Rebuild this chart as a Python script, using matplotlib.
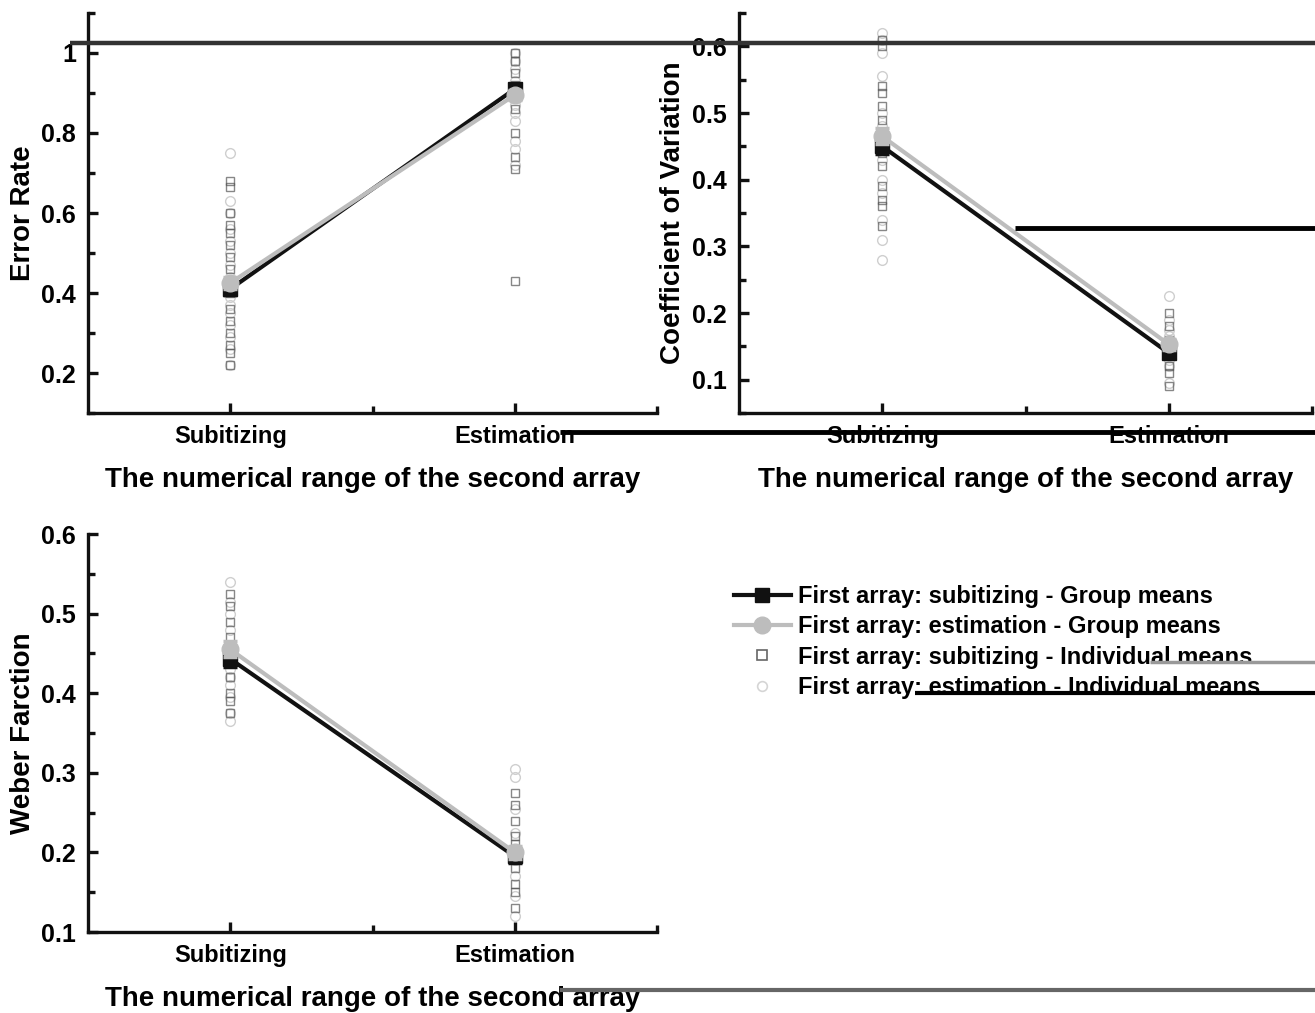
import matplotlib
matplotlib.use("Agg")
import matplotlib.pyplot as plt
from matplotlib.lines import Line2D
from matplotlib.ticker import FixedLocator
import numpy as np

plt.rcParams['font.family'] = ['Liberation Sans', 'DejaVu Sans']
plt.rcParams['font.weight'] = 'bold'

categories = ["Subitizing", "Estimation"]
x_label = "The numerical range of the second array"

# Panel 1: Error rate
er_sub_mean = [0.41, 0.91]
er_sub_err = [0.015, 0.012]
er_est_mean = [0.425, 0.895]
er_est_err = [0.015, 0.012]
er_sub_ind_1 = [0.22, 0.25, 0.27, 0.30, 0.33, 0.36, 0.40, 0.43, 0.46, 0.49, 0.52, 0.55, 0.57, 0.60, 0.665, 0.68]
er_est_ind_1 = [0.22, 0.26, 0.29, 0.32, 0.35, 0.37, 0.39, 0.41, 0.44, 0.47, 0.50, 0.53, 0.56, 0.60, 0.63, 0.75]
er_sub_ind_2 = [0.43, 0.71, 0.74, 0.80, 0.86, 0.89, 0.92, 0.95, 0.98, 1.0]
er_est_ind_2 = [0.72, 0.76, 0.78, 0.83, 0.85, 0.87, 0.90, 0.93, 0.96, 0.98, 1.0]

# Panel 2: Coefficient of variation
cv_sub_mean = [0.45, 0.14]
cv_sub_err = [0.012, 0.008]
cv_est_mean = [0.465, 0.153]
cv_est_err = [0.012, 0.008]
cv_sub_ind_1 = [0.33, 0.36, 0.37, 0.39, 0.42, 0.44, 0.47, 0.49, 0.51, 0.53, 0.54, 0.60, 0.61]
cv_est_ind_1 = [0.28, 0.31, 0.34, 0.38, 0.40, 0.43, 0.46, 0.48, 0.50, 0.555, 0.59, 0.61, 0.62]
cv_sub_ind_2 = [0.09, 0.11, 0.12, 0.14, 0.16, 0.18, 0.20]
cv_est_ind_2 = [0.095, 0.12, 0.13, 0.15, 0.165, 0.175, 0.19, 0.225]

# Panel 3: Weber fraction
wf_sub_mean = [0.443, 0.195]
wf_sub_err = [0.01, 0.008]
wf_est_mean = [0.455, 0.2]
wf_est_err = [0.01, 0.008]
wf_sub_ind_1 = [0.375, 0.39, 0.40, 0.42, 0.44, 0.46, 0.47, 0.49, 0.51, 0.525]
wf_est_ind_1 = [0.365, 0.375, 0.395, 0.41, 0.42, 0.43, 0.45, 0.48, 0.50, 0.515, 0.54]
wf_sub_ind_2 = [0.13, 0.15, 0.16, 0.18, 0.21, 0.22, 0.24, 0.26, 0.275]
wf_est_ind_2 = [0.12, 0.145, 0.17, 0.19, 0.225, 0.255, 0.295, 0.305]

legend_labels = ["First array: subitizing - Group means",
                 "First array: estimation - Group means",
                 "First array: subitizing - Individual means",
                 "First array: estimation - Individual means"]

W, H = 1315, 1013
fig = plt.figure(figsize=(W / 100, H / 100), dpi=100)

def fx(px):
    return px / W

def fy(py):
    return 1 - py / H

BLACK = "#111111"
GRAY = "#bdbdbd"
SQ_IND = "#555555"
CI_IND = "#cfcfcf"

def panel(rect, ylabel, ylim, ymajor, yminor, sub_mean, sub_err, est_mean, est_err,
          sq1, ci1, sq2, ci2):
    ax = fig.add_axes(rect)
    xs = np.arange(1, len(categories) + 1)
    # individual means
    ax.plot([xs[0]] * len(ci1), ci1, ls='none', marker='o', ms=7, mfc='none', mec=CI_IND, mew=1.0, zorder=2)
    ax.plot([xs[1]] * len(ci2), ci2, ls='none', marker='o', ms=7, mfc='none', mec=CI_IND, mew=1.0, zorder=2)
    ax.plot([xs[0]] * len(sq1), sq1, ls='none', marker='s', ms=6, mfc='none', mec=SQ_IND, mew=1.0, zorder=2, alpha=0.7)
    ax.plot([xs[1]] * len(sq2), sq2, ls='none', marker='s', ms=6, mfc='none', mec=SQ_IND, mew=1.0, zorder=2, alpha=0.7)
    # group means
    ax.errorbar(xs, sub_mean, yerr=sub_err, color=BLACK, lw=3, marker='s', ms=10,
                capsize=5, elinewidth=2.5, capthick=2.5, zorder=4)
    ax.errorbar(xs, est_mean, yerr=est_err, color=GRAY, lw=3, marker='o', ms=12,
                capsize=5, elinewidth=2.5, capthick=2.5, zorder=5)
    ax.set_xlim(0.5, 2.5)
    ax.set_ylim(*ylim)
    ax.set_xticks(xs)
    ax.set_xticklabels(categories)
    ax.xaxis.set_minor_locator(FixedLocator([1.5, 2.5]))
    ax.yaxis.set_major_locator(FixedLocator(ymajor))
    ax.yaxis.set_minor_locator(FixedLocator(yminor))
    ax.set_yticklabels([("%g" % v) for v in ymajor])
    for s in ['top', 'right']:
        ax.spines[s].set_visible(False)
    for s in ['left', 'bottom']:
        ax.spines[s].set_linewidth(2.4)
        ax.spines[s].set_color(BLACK)
    ax.tick_params(which='major', direction='in', length=7, width=2.4, labelsize=17, pad=8.5, color=BLACK)
    ax.tick_params(axis='y', which='major', labelsize=18, pad=8.5)
    ax.tick_params(which='minor', direction='in', length=5, width=2.4, color=BLACK)
    for lab in ax.get_xticklabels() + ax.get_yticklabels():
        lab.set_fontweight('bold')
    ax.set_ylabel(ylabel, fontsize=20, fontweight='bold')
    ax.set_xlabel(x_label, fontsize=20, fontweight='bold', labelpad=14)
    ax.yaxis.set_label_coords(-0.092, 0.5)
    return ax

ax1 = panel([fx(88), fy(413), fx(657) - fx(88), fy(13) - fy(413)], "Error Rate", (0.1, 1.1),
            [0.2, 0.4, 0.6, 0.8, 1.0], [0.1, 0.3, 0.5, 0.7, 0.9, 1.1],
            er_sub_mean, er_sub_err, er_est_mean, er_est_err,
            er_sub_ind_1, er_est_ind_1, er_sub_ind_2, er_est_ind_2)
ax1.set_yticklabels(["0.2", "0.4", "0.6", "0.8", "1"])

ax2 = panel([fx(739), fy(413), fx(1312) - fx(739), fy(13) - fy(413)], "Coefficient of Variation", (0.05, 0.65),
            [0.1, 0.2, 0.3, 0.4, 0.5, 0.6], [0.05, 0.15, 0.25, 0.35, 0.45, 0.55, 0.65],
            cv_sub_mean, cv_sub_err, cv_est_mean, cv_est_err,
            cv_sub_ind_1, cv_est_ind_1, cv_sub_ind_2, cv_est_ind_2)

ax3 = panel([fx(88), fy(932), fx(657) - fx(88), fy(534) - fy(932)], "Weber Farction", (0.1, 0.6),
            [0.1, 0.2, 0.3, 0.4, 0.5, 0.6], [0.15, 0.25, 0.35, 0.45, 0.55],
            wf_sub_mean, wf_sub_err, wf_est_mean, wf_est_err,
            wf_sub_ind_1, wf_est_ind_1, wf_sub_ind_2, wf_est_ind_2)

handles = [
    Line2D([], [], color=BLACK, lw=3, marker='s', ms=10),
    Line2D([], [], color=GRAY, lw=3, marker='o', ms=12),
    Line2D([], [], ls='none', marker='s', ms=7, mfc='none', mec='#666666', mew=1.2),
    Line2D([], [], ls='none', marker='o', ms=7, mfc='none', mec='#d5d5d5', mew=1.2),
]
fig.legend(handles, legend_labels, loc='upper left', bbox_to_anchor=(fx(734), fy(585)),
           frameon=False, prop={'weight': 'bold', 'size': 17},
           handlelength=2.4, handletextpad=0.3, labelspacing=0.31, borderpad=0, borderaxespad=0)

# scan artifacts (horizontal streaks)
def streak(x0, x1, y, lw, color):
    fig.add_artist(Line2D([fx(x0), fx(x1)], [fy(y), fy(y)], transform=fig.transFigure,
                          color=color, lw=lw, solid_capstyle='butt', zorder=10))

streak(70, 1315, 43, 3.2, "#333333")
streak(1015, 1315, 228, 3.5, "#000000")
streak(560, 1315, 432, 3.5, "#000000")
streak(915, 1315, 693, 3.0, "#000000")
streak(1150, 1315, 662, 2.5, "#999999")
streak(560, 1315, 990, 3.0, "#666666")

fig.savefig("out.png", dpi=100)
